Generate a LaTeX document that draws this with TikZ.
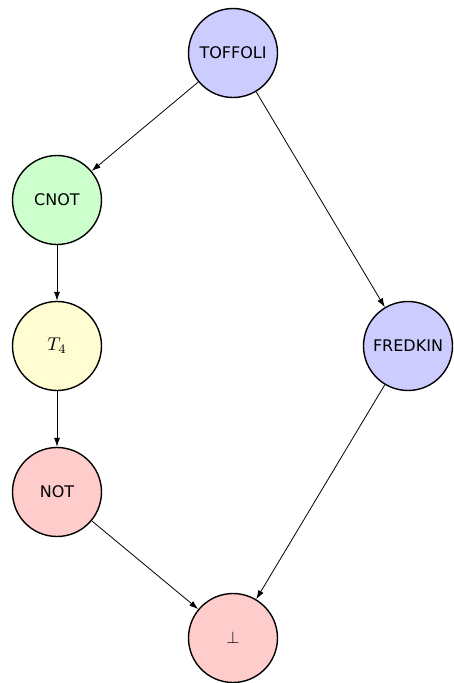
\documentclass[tikz,border=0pt]{standalone}
\usepackage{fontspec}
\setmainfont{DejaVu Sans}
\usetikzlibrary{arrows.meta}
\begin{document}
\begin{tikzpicture}[x=1pt,y=-1pt,
  gate/.style={circle,draw=black,line width=1.4pt,minimum size=89pt,inner sep=0pt,
    font=\fontsize{16}{19}\selectfont},
  conn/.style={-{Latex[length=9pt,width=6pt]},line width=0.8pt,draw=black}]
\useasboundingbox (0,0) rectangle (454,683);
\node[gate,fill=blue!20] (toffoli) at (233,53) {TOFFOLI};
\node[gate,fill=green!20] (cnot) at (57,200) {CNOT};
\node[gate,fill=yellow!18,font=\normalsize] (t4) at (57,346) {\scalebox{1.85}{$T_4$}};
\node[gate,fill=red!20] (not) at (57,492) {NOT};
\node[gate,fill=blue!20] (fredkin) at (408,346) {FREDKIN};
\node[gate,fill=red!20,font=\normalsize] (bot) at (233,638) {\scalebox{1.7}{$\bot$}};
\draw[conn] (toffoli) -- (cnot);
\draw[conn] (toffoli) -- (fredkin);
\draw[conn] (cnot) -- (t4);
\draw[conn] (t4) -- (not);
\draw[conn] (not) -- (bot);
\draw[conn] (fredkin) -- (bot);
\end{tikzpicture}
\end{document}
